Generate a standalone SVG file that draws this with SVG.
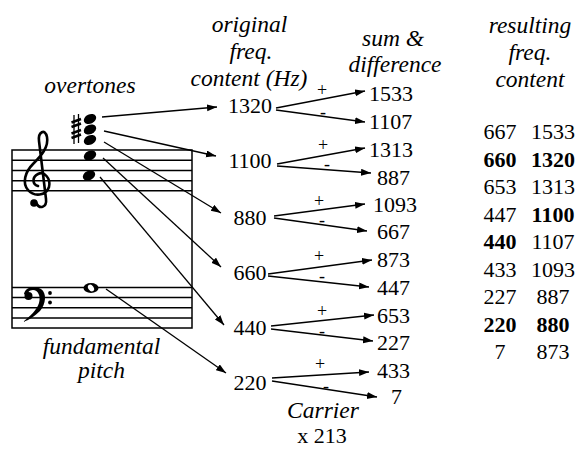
<svg xmlns="http://www.w3.org/2000/svg" width="581" height="449" viewBox="0 0 581 449" font-family="'Liberation Serif', 'DejaVu Serif', serif">
<style>
text{font-family:'Liberation Serif','DejaVu Serif',serif;fill:#000}
.h{font-style:italic;font-size:23.5px;text-anchor:middle}
.n{font-size:22px}
.c{text-anchor:middle}
.s{font-size:18px;text-anchor:middle}
.b{font-weight:bold}
.ln{stroke:#000;stroke-width:1.3;fill:none}
.st{stroke:#000;stroke-width:1.5;fill:none}
</style>
<defs>
<marker id="ah" markerUnits="userSpaceOnUse" markerWidth="11" markerHeight="8" refX="10" refY="3.5" orient="auto">
<path d="M0,0 L10,3.5 L0,7 z" fill="#000"/>
</marker>
</defs>
<rect width="581" height="449" fill="#fff"/>

<g id="staff">
<rect x="12" y="150" width="180" height="178" class="st"/>
<path class="st" d="M12,160.3H192M12,170.5H192M12,180.7H192M12,190.8H192M12,287.5H192M12,297.6H192M12,307.7H192M12,317.9H192"/>
<path d="M36,203 C40,210 47,207 46,199 L39,141 C38,132 45,128 47,137 C49,147 41,156 33,164 C25,172 22,183 28,190 C34,197 46,196 49,187 C51,178 44,171 38,174 C32,177 32,184 38,186" stroke="#000" stroke-width="2.6" fill="none" stroke-linecap="round"/>
<circle cx="34" cy="203" r="3.8" fill="#000"/>
<path d="M24,294 C25,287 35,285 41,289 C47,293 46,304 40,311 C35,316 29,320 23,322 C30,316 37,310 39,303 C41,296 38,290 33,290 C29,290 27,293 27,296 Z" fill="#000"/>
<circle cx="28.5" cy="296" r="4" fill="#000"/>
<circle cx="50" cy="293" r="1.9" fill="#000"/>
<circle cx="50" cy="302.5" r="1.9" fill="#000"/>
</g>

<g id="overtone-notes">
<path d="M74,115V144M78.5,114V143" stroke="#000" stroke-width="1.3"/>
<path d="M71.5,122.5L81,119M71.5,127L81,123.5M71.5,133.5L81,130M71.5,138L81,134.5" stroke="#000" stroke-width="2.4"/>
<ellipse cx="90" cy="119" rx="6.5" ry="4.6" transform="rotate(-25 90 119)" fill="#000"/>
<ellipse cx="90" cy="129.5" rx="6.5" ry="4.6" transform="rotate(-25 90 129.5)" fill="#000"/>
<ellipse cx="90" cy="140" rx="6.5" ry="4.6" transform="rotate(-25 90 140)" fill="#000"/>
<ellipse cx="90" cy="155.5" rx="6.5" ry="4.6" transform="rotate(-25 90 155.5)" fill="#000"/>
<ellipse cx="89" cy="175.5" rx="6.5" ry="4.6" transform="rotate(-25 89 175.5)" fill="#000"/>
</g>

<g id="fundamental-note">
<ellipse cx="91" cy="288" rx="7.5" ry="5" fill="#000"/>
<ellipse cx="91" cy="288" rx="2.6" ry="3.8" transform="rotate(-35 91 288)" fill="#fff"/>
</g>

<g id="labels-left">
<text class="h" x="90" y="93">overtones</text>
<text class="h" x="101.5" y="354">fundamental</text>
<text class="h" x="101.5" y="378">pitch</text>
</g>

<g id="connectors" class="ln" marker-end="url(#ah)">
<line x1="102" y1="117" x2="217" y2="107"/>
<line x1="104" y1="131" x2="216" y2="156"/>
<line x1="104" y1="142" x2="221" y2="213"/>
<line x1="103" y1="158" x2="221" y2="267"/>
<line x1="100" y1="177" x2="224" y2="325"/>
<line x1="106" y1="289" x2="226" y2="373"/>

<line x1="276" y1="108" x2="365" y2="91"/>
<line x1="276" y1="110" x2="365" y2="122"/>
<line x1="277" y1="164" x2="365" y2="148"/>
<line x1="277" y1="166" x2="371" y2="173"/>
<line x1="274" y1="216" x2="365" y2="204"/>
<line x1="274" y1="218" x2="367" y2="231"/>
<line x1="268" y1="274" x2="372" y2="260"/>
<line x1="268" y1="276" x2="369" y2="287"/>
<line x1="271" y1="326" x2="374" y2="315"/>
<line x1="271" y1="329" x2="373" y2="341"/>
<line x1="272" y1="378" x2="369" y2="372"/>
<line x1="272" y1="381" x2="377" y2="397"/>
</g>

<g id="original-freq">
<text class="h" x="249.5" y="32">original</text>
<text class="h" x="251" y="59">freq.</text>
<text class="h" x="249" y="86">content (Hz)</text>
<text class="n c" x="250" y="113">1320</text>
<text class="n c" x="250" y="168">1100</text>
<text class="n c" x="250" y="225">880</text>
<text class="n c" x="250" y="280">660</text>
<text class="n c" x="250" y="335">440</text>
<text class="n c" x="250" y="390">220</text>
</g>

<g id="signs">
<text class="s" x="322" y="96">+</text>
<text class="s" x="323" y="118">-</text>
<text class="s" x="323" y="151">+</text>
<text class="s" x="327" y="170">-</text>
<text class="s" x="319" y="207">+</text>
<text class="s" x="322" y="226">-</text>
<text class="s" x="319" y="262">+</text>
<text class="s" x="322" y="282">-</text>
<text class="s" x="322" y="317">+</text>
<text class="s" x="322" y="337">-</text>
<text class="s" x="320" y="370">+</text>
<text class="s" x="326" y="392">-</text>
</g>

<g id="sum-difference">
<text class="h" x="393" y="46">sum &amp;</text>
<text class="h" x="395" y="72">difference</text>
<text class="n" x="369" y="101">1533</text>
<text class="n" x="369" y="129">1107</text>
<text class="n" x="369" y="157">1313</text>
<text class="n" x="377" y="185">887</text>
<text class="n" x="373" y="212">1093</text>
<text class="n" x="377" y="239">667</text>
<text class="n" x="377" y="267">873</text>
<text class="n" x="377" y="295">447</text>
<text class="n" x="377" y="323">653</text>
<text class="n" x="377" y="350">227</text>
<text class="n" x="377" y="378">433</text>
<text class="n" x="391" y="404">7</text>
</g>

<g id="carrier">
<text class="h" x="323" y="418">Carrier</text>
<text class="n c" x="322" y="443">x 213</text>
</g>

<g id="resulting">
<text class="h" x="530" y="33">resulting</text>
<text class="h" x="530" y="60">freq.</text>
<text class="h" x="530" y="87">content</text>
<g class="n c">
<text x="500" y="139">667</text><text x="553" y="139">1533</text>
<text class="b" x="500" y="166.5">660</text><text class="b" x="553" y="166.5">1320</text>
<text x="500" y="194">653</text><text x="553" y="194">1313</text>
<text x="500" y="221.5">447</text><text class="b" x="553" y="221.5">1100</text>
<text class="b" x="500" y="249">440</text><text x="553" y="249">1107</text>
<text x="500" y="276.5">433</text><text x="553" y="276.5">1093</text>
<text x="500" y="304">227</text><text x="553" y="304">887</text>
<text class="b" x="500" y="331.5">220</text><text class="b" x="553" y="331.5">880</text>
<text x="500" y="359">7</text><text x="553" y="359">873</text>
</g>
</g>
</svg>
